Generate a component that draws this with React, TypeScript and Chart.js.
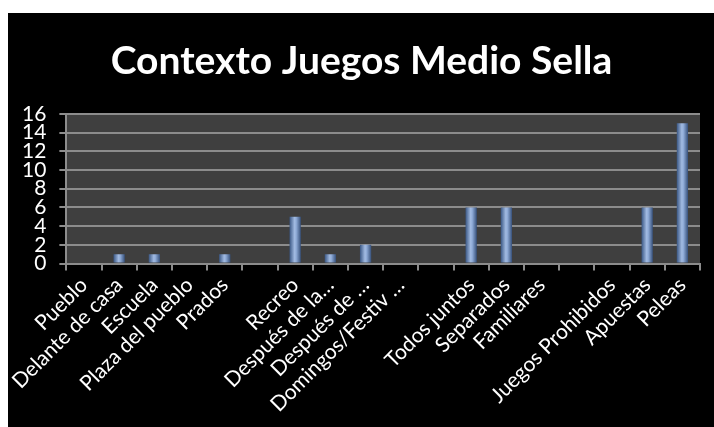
import React, { useEffect, useRef } from "react";
import { Chart, registerables } from "chart.js";

Chart.register(...registerables);

const categories: string[] = [
  "Pueblo",
  "Delante de casa",
  "Escuela",
  "Plaza del pueblo",
  "Prados",
  "",
  "Recreo",
  "Después de la…",
  "Después de …",
  "Domingos/Festiv …",
  "",
  "Todos juntos",
  "Separados",
  "Familiares",
  "",
  "Juegos Prohibidos",
  "Apuestas",
  "Peleas",
];

const values: (number | null)[] = [0, 1, 1, 0, 1, 0, 5, 1, 2, 0, 0, 6, 6, 0, 0, 0, 6, 15];

const yTicks: number[] = [0, 2, 4, 6, 8, 10, 12, 14, 16];

const titleText = "Contexto Juegos Medio Sella";

const FONT = "Lato, 'Open Sans', sans-serif";

const plotBg = {
  id: "plotBg",
  beforeDraw(chart: any) {
    const { ctx, chartArea } = chart;
    if (!chartArea) return;
    ctx.save();
    ctx.fillStyle = "#3f3f3f";
    ctx.fillRect(chartArea.left, chartArea.top, chartArea.right - chartArea.left, chartArea.bottom - chartArea.top);
    ctx.restore();
  },
};

export default function App() {
  const ref = useRef<HTMLCanvasElement | null>(null);
  useEffect(() => {
    if (!ref.current) return;
    const chart = new Chart(ref.current, {
      type: "bar",
      data: {
        labels: categories,
        datasets: [
          {
            data: values,
            barPercentage: 0.32,
            categoryPercentage: 1,
            borderWidth: 0,
            backgroundColor: (c: any) => {
              const ch = c.chart;
              const xs = ch.scales && ch.scales.x;
              if (!xs || c.dataIndex == null) return "#7b98c8";
              const cx = xs.getPixelForValue(c.dataIndex);
              const w = (xs.width / categories.length) * 0.32;
              if (!isFinite(cx) || !isFinite(w) || w <= 0) return "#7b98c8";
              const g = ch.ctx.createLinearGradient(cx - w / 2, 0, cx + w / 2, 0);
              g.addColorStop(0, "#3a5784");
              g.addColorStop(0.45, "#a2bbe2");
              g.addColorStop(0.6, "#8eaad6");
              g.addColorStop(1, "#36507a");
              return g;
            },
          },
        ],
      },
      options: {
        animation: false,
        responsive: false,
        maintainAspectRatio: false,
        layout: { padding: { left: 1, right: 0, top: 0, bottom: 8 } },
        plugins: {
          legend: { display: false },
          tooltip: { enabled: false },
          title: {
            display: true,
            text: titleText,
            color: "#ffffff",
            font: { family: FONT, size: 39, weight: "bold" },
            padding: { top: 25, bottom: 29 },
          },
        },
        scales: {
          x: {
            offset: true,
            afterFit: (scale: any) => {
              scale.paddingLeft = 0;
              scale.paddingRight = 14;
            },
            grid: {
              display: true,
              offset: true,
              drawOnChartArea: false,
              drawTicks: true,
              tickLength: 7,
              color: "#8c8c8c",
              lineWidth: 2,
            },
            border: { display: true, color: "#8c8c8c", width: 2 },
            ticks: {
              color: "#ffffff",
              autoSkip: false,
              maxRotation: 45,
              minRotation: 45,
              padding: 2,
              font: { family: FONT, size: 21 },
            },
          },
          y: {
            min: 0,
            max: 16,
            afterBuildTicks: (axis: any) => {
              axis.ticks = yTicks.map((v) => ({ value: v }));
            },
            grid: {
              color: "#8c8c8c",
              lineWidth: 2,
              tickLength: 7,
            },
            border: { display: true, color: "#8c8c8c", width: 2 },
            ticks: {
              color: "#ffffff",
              autoSkip: false,
              padding: 13,
              font: { family: FONT, size: 21 },
            },
          },
        },
      },
      plugins: [plotBg],
    });
    chart.update();
    return () => chart.destroy();
  }, []);
  return (
    <div style={{ position: "absolute", left: 8, top: 13, width: 706, height: 414, background: "#000" }}>
      <canvas ref={ref} width={706} height={414} style={{ display: "block" }} />
    </div>
  );
}
